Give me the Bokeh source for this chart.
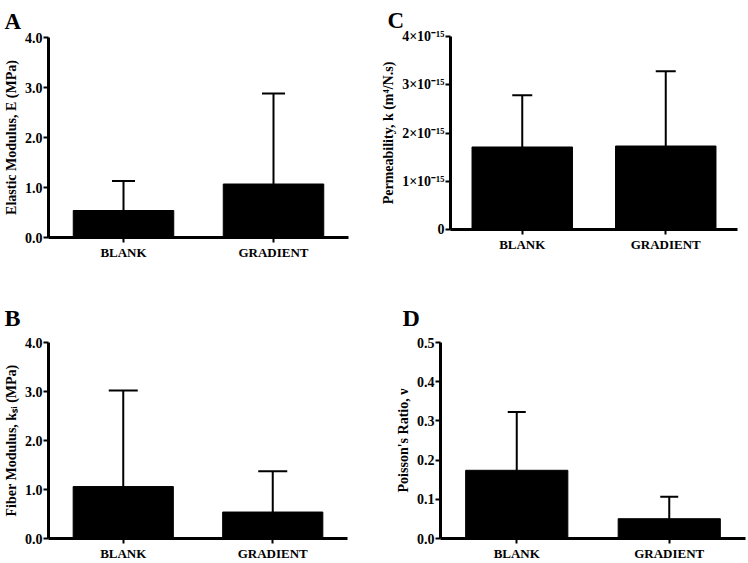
from bokeh.plotting import figure
from bokeh.models import (Range1d, FixedTicker, Whisker, TeeHead,
                          ColumnDataSource, Title, NumeralTickFormatter)
from bokeh.layouts import row, column
from bokeh.embed import file_html
from bokeh.resources import INLINE

# ---------------- data ----------------
groups = ["BLANK", "GRADIENT"]

elastic_mean = [0.54, 1.07]
elastic_sd = [0.59, 1.81]
elastic_ticks = [0.0, 1.0, 2.0, 3.0, 4.0]

fiber_mean = [1.06, 0.54]
fiber_sd = [1.96, 0.83]
fiber_ticks = [0.0, 1.0, 2.0, 3.0, 4.0]

perm_mean = [1.71e-15, 1.73e-15]
perm_sd = [1.07e-15, 1.55e-15]
perm_ticks = [0, 1e-15, 2e-15, 3e-15, 4e-15]
perm_tick_labels = ["0", "1×10⁻¹⁵", "2×10⁻¹⁵", "3×10⁻¹⁵", "4×10⁻¹⁵"]

poisson_mean = [0.174, 0.0505]
poisson_sd = [0.149, 0.056]
poisson_ticks = [0.0, 0.1, 0.2, 0.3, 0.4, 0.5]

FONT = "Liberation Serif"


def panel(letter, means, sds, ticks, ylabel, w, h, bl, br, bt, bb, bar_w,
          letter_dx, letter_standoff, letter_size, cap, tick_labels=None,
          fmt="0.0"):
    ymax = ticks[-1]
    n = len(groups)
    centers = [i + 0.5 for i in range(n)]

    p = figure(x_range=Range1d(0, n), y_range=Range1d(0, ymax),
               width=w, height=h, output_backend="svg", toolbar_location=None,
               min_border_left=bl, min_border_right=br,
               min_border_top=bt, min_border_bottom=bb,
               title=Title(text=letter, align="left", offset=letter_dx,
                           standoff=letter_standoff, text_font=FONT,
                           text_font_style="bold", text_font_size=letter_size,
                           text_color="black"))
    p.outline_line_color = None
    p.grid.visible = False
    p.background_fill_color = "white"
    p.border_fill_color = "white"

    src = ColumnDataSource(dict(x=centers, top=means,
                                upper=[m + s for m, s in zip(means, sds)]))
    p.vbar(x="x", top="top", width=bar_w, source=src,
           fill_color="black", line_color="black")
    wh = Whisker(base="x", lower="top", upper="upper", source=src,
                 line_width=2, line_color="black",
                 upper_head=TeeHead(size=cap, line_width=2, line_color="black"),
                 lower_head=None)
    p.add_layout(wh)

    xa = p.xaxis[0]
    xa.ticker = FixedTicker(ticks=centers)
    xa.major_label_overrides = {c: g for c, g in zip(centers, groups)}

    ya = p.yaxis[0]
    ya.ticker = FixedTicker(ticks=ticks)
    if tick_labels is not None:
        ya.major_label_overrides = {t: l for t, l in zip(ticks, tick_labels)}
    else:
        ya.formatter = NumeralTickFormatter(format=fmt)
    ya.axis_label = ylabel

    for ax in (xa, ya):
        ax.axis_line_width = 3
        ax.axis_line_color = "black"
        ax.major_tick_line_width = 2
        ax.major_tick_line_color = "black"
        ax.major_tick_in = 0
        ax.major_tick_out = 5
        ax.minor_tick_line_color = None
        ax.major_label_text_font = FONT
        ax.major_label_text_font_style = "bold"
        ax.major_label_text_color = "black"
        ax.axis_label_text_font = FONT
        ax.axis_label_text_font_style = "bold"
        ax.axis_label_text_color = "black"
        ax.axis_label_text_font_size = "14px"
    ya.major_label_text_font_size = "14px"
    ya.major_label_standoff = 1
    ya.axis_label_standoff = 3
    xa.major_label_text_font_size = "13px"
    xa.major_label_standoff = 2
    return p


pA = panel("A", elastic_mean, elastic_sd, elastic_ticks,
           "Elastic Modulus, E (MPa)", 374, 280, 47, 26, 37, 43, 0.67,
           -44, 8, "23px", 23)
pB = panel("B", fiber_mean, fiber_sd, fiber_ticks,
           "Fiber Modulus, kₛᵢ (MPa)", 374, 283, 47, 27, 62, 23, 0.67,
           -44, 23, "24px", 29)
pC = panel("C", perm_mean, perm_sd, perm_ticks,
           "Permeability, k (m⁴/N.s)", 374, 280, 76, 11, 36, 51, 0.7,
           -63, 8, "23px", 20, tick_labels=perm_tick_labels)
pD = panel("D", poisson_mean, poisson_sd, poisson_ticks,
           "Poisson's Ratio, ν", 374, 283, 66, 3, 62, 20, 0.67,
           -38, 23, "24px", 18)

layout = row(column(column(pA), column(pB)), column(column(pC), column(pD)))

open("out.html", "w").write(file_html(layout, INLINE))
